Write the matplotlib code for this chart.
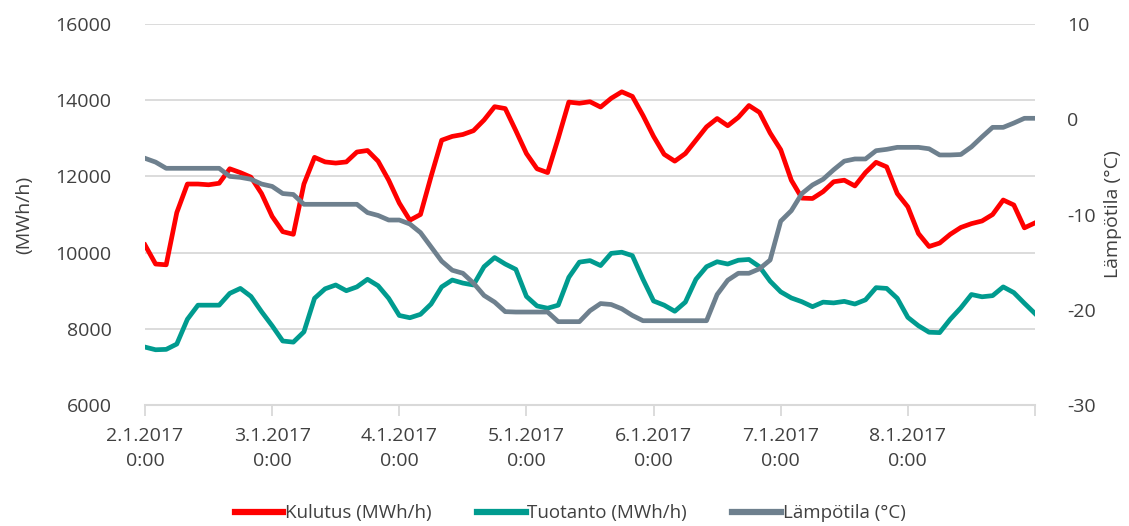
import numpy as np
import pandas as pd
import matplotlib
matplotlib.use("Agg")
import matplotlib.pyplot as plt

plt.rcParams['font.family'] = ['Open Sans', 'DejaVu Sans']
plt.rcParams['axes.unicode_minus'] = False

# two-hourly readings, 2.1.2017 0:00 .. 9.1.2017 0:00
times = pd.date_range('2017-01-02 00:00', periods=85, freq='2h')

kulutus = [
    10200, 9700, 9680, 11050, 11800, 11800, 11780, 11820, 12200, 12100,
    11980, 11550, 10950, 10550, 10480, 11800, 12500, 12380, 12350, 12380,
    12640, 12680, 12400, 11900, 11300, 10850, 11000, 12000, 12950, 13050,
    13100, 13200, 13480, 13830, 13780, 13200, 12600, 12200, 12100, 13000,
    13950, 13920, 13960, 13820, 14050, 14220, 14100, 13600, 13050, 12580,
    12400, 12600, 12950, 13300, 13520, 13330, 13550, 13860, 13680, 13140,
    12700, 11900, 11430, 11420, 11600, 11860, 11900, 11750, 12100, 12370,
    12250, 11550, 11200, 10500, 10160, 10250, 10480, 10660, 10760, 10830,
    11000, 11380, 11250, 10650, 10780,
]

tuotanto = [
    7520, 7450, 7460, 7600, 8250, 8620, 8620, 8620, 8930, 9060,
    8850, 8450, 8080, 7680, 7650, 7920, 8800, 9050, 9150, 9000,
    9100, 9300, 9130, 8800, 8350, 8290, 8380, 8650, 9100, 9280,
    9200, 9150, 9630, 9870, 9700, 9560, 8850, 8600, 8540, 8620,
    9350, 9750, 9790, 9660, 9980, 10010, 9920, 9300, 8730, 8620,
    8460, 8700, 9300, 9630, 9760, 9700, 9800, 9820, 9630, 9250,
    8970, 8810, 8710, 8580, 8700, 8680, 8720, 8650, 8760, 9080,
    9060, 8800, 8300, 8080, 7910, 7900, 8250, 8550, 8900, 8840,
    8870, 9100, 8950, 8670, 8400,
]

lampotila = [
    -4.1, -4.5, -5.15, -5.15, -5.15, -5.15, -5.15, -5.15, -6.0, -6.1,
    -6.3, -6.8, -7.05, -7.8, -7.9, -8.93, -8.93, -8.93, -8.93, -8.93,
    -8.93, -9.8, -10.1, -10.58, -10.58, -11.0, -11.9, -13.4, -14.9, -15.85,
    -16.17, -17.2, -18.5, -19.2, -20.2, -20.24, -20.24, -20.24, -20.24, -21.25,
    -21.25, -21.25, -20.1, -19.35, -19.45, -19.9, -20.6, -21.15, -21.15, -21.15,
    -21.15, -21.15, -21.15, -21.15, -18.4, -16.9, -16.17, -16.17, -15.7, -14.78,
    -10.7, -9.6, -7.8, -6.9, -6.3, -5.3, -4.4, -4.17, -4.17, -3.3,
    -3.16, -2.95, -2.95, -2.95, -3.1, -3.75, -3.75, -3.7, -2.9, -1.85,
    -0.85, -0.85, -0.4, 0.1, 0.1,
]

day_ticks = pd.date_range('2017-01-02', '2017-01-09', freq='D')
day_labels = [f"{d.day}.{d.month}.{d.year}\n0:00" for d in day_ticks[:-1]] + [""]

text_col = '#404040'
grid_col = '#d9d9d9'

fig = plt.figure(figsize=(11.29, 5.26), dpi=100)
ax = fig.add_axes([145 / 1129, 1 - 405 / 526, 890 / 1129, 381 / 526])
ax2 = ax.twinx()

l1, = ax.plot(times, kulutus, color='#ff0000', lw=3.4, solid_joinstyle='round')
l2, = ax.plot(times, tuotanto, color='#009b8f', lw=3.4, solid_joinstyle='round')
l3, = ax2.plot(times, lampotila, color='#6e808e', lw=3.4, solid_joinstyle='round')

ax.set_xlim(day_ticks[0], day_ticks[-1])
ax.set_ylim(6000, 16000)
ax2.set_ylim(-30, 10)
ax.set_yticks(np.arange(6000, 16001, 2000))
ax2.set_yticks([-30, -20, -10, 0, 10])

ax.set_xticks(day_ticks)
ax.set_xticklabels(day_labels, linespacing=1.5)

ax.grid(axis='y', color=grid_col, lw=1.3)
ax.set_axisbelow(True)
for a in (ax, ax2):
    for s in ('left', 'right', 'top'):
        a.spines[s].set_visible(False)
ax2.spines['bottom'].set_visible(False)
ax.spines['bottom'].set_color(grid_col)
ax.spines['bottom'].set_linewidth(1.5)

ax.tick_params(axis='x', colors=grid_col, length=8, width=1.3, pad=8,
               labelcolor=text_col, labelsize=14)
ax.tick_params(axis='y', length=0, pad=24, labelcolor=text_col, labelsize=14)
ax2.tick_params(axis='y', length=0, pad=23, labelcolor=text_col, labelsize=14)

ax.set_ylabel('(MWh/h)', color=text_col, fontsize=14, labelpad=16)
ax2.set_ylabel('Lämpötila (°C)', color=text_col, fontsize=14, labelpad=6)

fig.legend([l1, l2, l3], ['Kulutus (MWh/h)', 'Tuotanto (MWh/h)', 'Lämpötila (°C)'],
           loc='lower center', bbox_to_anchor=(0.505, -0.025), ncol=3, frameon=False,
           fontsize=13.5, handlelength=2.6, handletextpad=0.1, columnspacing=2.4,
           labelcolor=text_col)
for h in fig.legends[0].legend_handles:
    h.set_linewidth(4.5)

fig.savefig('out.png', dpi=100)
